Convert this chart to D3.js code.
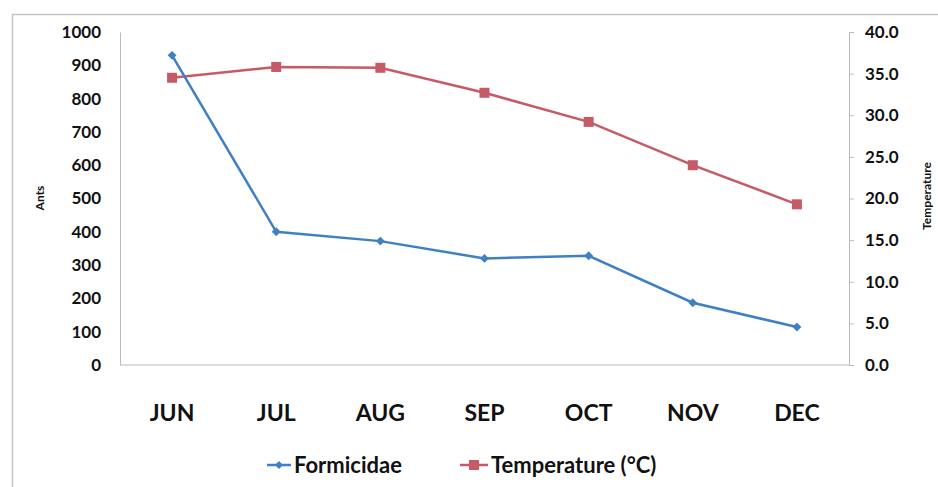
<!DOCTYPE html>
<html>
<head>
<meta charset="utf-8">
<script src="https://cdn.jsdelivr.net/npm/d3@7"></script>
<style>
  body { margin: 0; background: #fff; }
  text { font-family: Lato, "Open Sans", sans-serif; font-weight: bold; fill: #111; }
</style>
</head>
<body>
<div id="chart"></div>
<script>
const months = ["JUN", "JUL", "AUG", "SEP", "OCT", "NOV", "DEC"];
const formicidae = [930, 400, 372, 320, 328, 187, 114];
const temperature = [34.5, 35.8, 35.7, 32.7, 29.2, 24.0, 19.3];
const antTicks = [0, 100, 200, 300, 400, 500, 600, 700, 800, 900, 1000];
const tempTicks = [0, 5, 10, 15, 20, 25, 30, 35, 40];

const width = 938;
const height = 487;
const plot = { left: 120, right: 849, top: 32, bottom: 365 };
const blue = "#3f80c4";
const red = "#c65a66";

const svg = d3.select("#chart")
    .append("svg")
    .attr("width", width)
    .attr("height", height);

// outer chart frame
svg.append("rect")
    .attr("x", 12.5)
    .attr("y", 14.5)
    .attr("width", 960)
    .attr("height", 520)
    .attr("fill", "none")
    .attr("stroke", "#c4c6ca")
    .attr("stroke-width", 1.5);

// scales
const x = d3.scalePoint()
    .domain(months)
    .range([plot.left, plot.right])
    .padding(0.5);

const yAnts = d3.scaleLinear()
    .domain([0, 1000])
    .range([plot.bottom, plot.top]);

const yTemp = d3.scaleLinear()
    .domain([0, 40])
    .range([plot.bottom, plot.top]);

// left axis
const leftAxis = svg.append("g")
    .attr("transform", `translate(${plot.left},0)`)
    .call(d3.axisLeft(yAnts).tickValues(antTicks).tickSize(0).tickPadding(19)
        .tickFormat(d3.format("d")));
leftAxis.select(".domain").attr("stroke", "#b8bcc2");
leftAxis.selectAll("text").style("font-size", "17px");

// right axis
const rightAxis = svg.append("g")
    .attr("transform", `translate(${plot.right},0)`)
    .call(d3.axisRight(yTemp).tickValues(tempTicks).tickSize(5).tickPadding(11)
        .tickFormat(d3.format(".1f")));
rightAxis.select(".domain").attr("stroke", "#b8bcc2");
rightAxis.selectAll("line").attr("stroke", "#b8bcc2");
rightAxis.selectAll("text").style("font-size", "17px");

// bottom axis line
svg.append("line")
    .attr("x1", plot.left)
    .attr("x2", plot.right)
    .attr("y1", plot.bottom)
    .attr("y2", plot.bottom)
    .attr("stroke", "#b8bcc2");

// category labels
svg.selectAll(".month")
    .data(months)
    .enter()
    .append("text")
    .attr("class", "month")
    .attr("x", d => x(d))
    .attr("y", 421)
    .attr("text-anchor", "middle")
    .style("font-size", "23px")
    .text(d => d);

// axis titles
svg.append("text")
    .attr("transform", "translate(44,198) rotate(-90)")
    .attr("text-anchor", "middle")
    .style("font-size", "12px")
    .text("Ants");

svg.append("text")
    .attr("transform", "translate(931,196) rotate(-90)")
    .attr("text-anchor", "middle")
    .style("font-size", "12px")
    .text("Temperature");

// lines
const antLine = d3.line()
    .x((d, i) => x(months[i]))
    .y(d => yAnts(d));

const tempLine = d3.line()
    .x((d, i) => x(months[i]))
    .y(d => yTemp(d));

svg.append("path")
    .datum(temperature)
    .attr("d", tempLine)
    .attr("fill", "none")
    .attr("stroke", red)
    .attr("stroke-width", 2.5);

svg.append("path")
    .datum(formicidae)
    .attr("d", antLine)
    .attr("fill", "none")
    .attr("stroke", blue)
    .attr("stroke-width", 2.5);

// markers
svg.selectAll(".tempMark")
    .data(temperature)
    .enter()
    .append("rect")
    .attr("x", (d, i) => x(months[i]) - 5)
    .attr("y", d => yTemp(d) - 5)
    .attr("width", 10)
    .attr("height", 10)
    .attr("fill", red);

svg.selectAll(".antMark")
    .data(formicidae)
    .enter()
    .append("path")
    .attr("d", d3.symbol(d3.symbolDiamond2, 50))
    .attr("transform", (d, i) => `translate(${x(months[i])},${yAnts(d)})`)
    .attr("fill", blue);

// legend
const legend = svg.append("g").attr("transform", "translate(0,465)");

legend.append("line")
    .attr("x1", 267).attr("x2", 291)
    .attr("stroke", blue).attr("stroke-width", 2.5);
legend.append("path")
    .attr("d", d3.symbol(d3.symbolDiamond2, 40))
    .attr("transform", "translate(279,0)")
    .attr("fill", blue);
legend.append("text")
    .attr("x", 294).attr("y", 8)
    .style("font-size", "22px")
    .text("Formicidae");

legend.append("line")
    .attr("x1", 460).attr("x2", 488)
    .attr("stroke", red).attr("stroke-width", 2.5);
legend.append("rect")
    .attr("x", 469).attr("y", -5)
    .attr("width", 10).attr("height", 10)
    .attr("fill", red);
legend.append("text")
    .attr("x", 491).attr("y", 8)
    .style("font-size", "22px")
    .text("Temperature (°C)");
</script>
</body>
</html>
